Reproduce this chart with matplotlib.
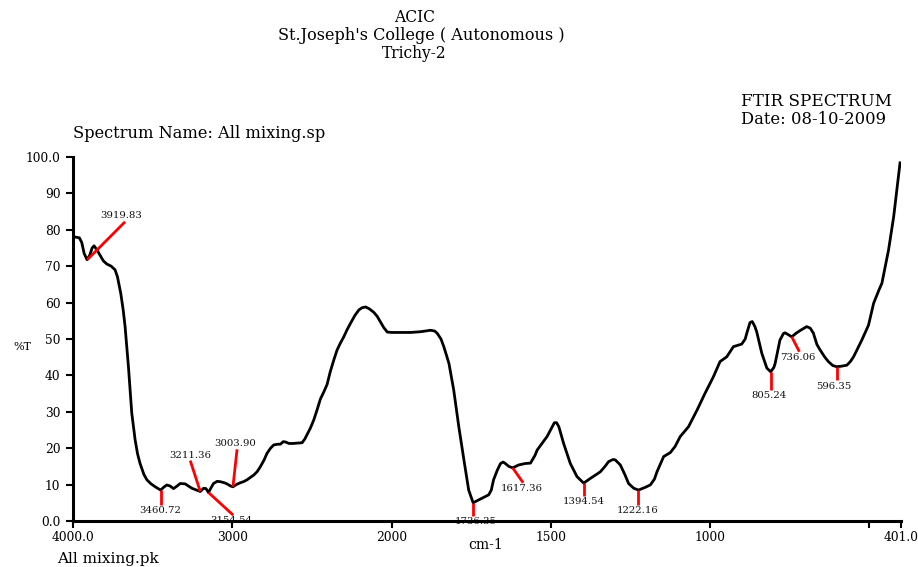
import numpy as np
import matplotlib
matplotlib.use("Agg")
import matplotlib.pyplot as plt

# ---- spectrum data ----
wavenumber = [4000, 3985, 3960, 3945, 3930, 3912, 3895, 3880, 3868, 3850, 3830, 3810, 3788, 3760,
              3736, 3721, 3700, 3685, 3673, 3652, 3631, 3610, 3595, 3579, 3555, 3536, 3510, 3484,
              3450, 3430, 3411, 3390, 3369, 3350, 3327, 3296, 3275, 3254, 3225, 3201, 3180, 3165,
              3149, 3135, 3118, 3095, 3075, 3050, 3033, 3010, 2996, 2975, 2950, 2930, 2908, 2885,
              2866, 2845, 2824, 2800, 2782, 2760, 2740, 2715, 2698, 2680, 2665, 2645, 2620, 2590,
              2562, 2545, 2530, 2510, 2489, 2468, 2447, 2425, 2405, 2385, 2363, 2342, 2320, 2300,
              2280, 2258, 2230, 2205, 2185, 2163, 2140, 2111, 2090, 2069, 2050, 2027, 2000, 1982,
              1940, 1909, 1878, 1865, 1857, 1845, 1836, 1820, 1805, 1789, 1773, 1758, 1744, 1731,
              1715, 1695, 1687, 1680, 1668, 1658, 1650, 1643, 1632, 1620, 1601, 1580, 1564, 1550,
              1543, 1512, 1495, 1489, 1482, 1475, 1460, 1439, 1418, 1397, 1376, 1345, 1330, 1319,
              1305, 1298, 1282, 1268, 1256, 1240, 1225, 1205, 1188, 1175, 1167, 1146, 1125, 1110,
              1094, 1068, 1041, 1016, 990, 969, 948, 927, 901, 890, 885, 875, 868, 860,
              854, 838, 822, 810, 800, 796, 781, 770, 765, 755, 744, 730, 718, 697,
              686, 676, 665, 655, 640, 629, 615, 603, 590, 571, 560, 550, 524, 503,
              487, 470, 461, 440, 424, 414, 404]
transmittance = [77.8, 78.0, 77.8, 76.5, 73.5, 71.8, 73.0, 75.0, 75.6, 74.5, 73.0, 71.5, 70.6, 70.0,
                 69.0, 67.1, 62.5, 58.0, 53.4, 42.4, 29.6, 22.3, 18.5, 15.8, 12.8, 11.3, 10.2, 9.4,
                 8.5, 9.3, 9.9, 9.6, 8.9, 9.5, 10.3, 10.2, 9.6, 9.0, 8.5, 8.1, 9.0, 8.9,
                 7.8, 9.0, 10.3, 10.9, 10.8, 10.5, 10.2, 9.6, 9.4, 10.0, 10.5, 10.8, 11.3, 12.0,
                 12.6, 13.5, 14.9, 16.8, 18.6, 20.0, 20.9, 21.1, 21.1, 21.8, 21.7, 21.3, 21.3, 21.4,
                 21.5, 22.5, 23.8, 25.5, 27.7, 30.5, 33.5, 35.5, 37.5, 41.0, 44.2, 47.0, 49.0, 50.6,
                 52.5, 54.3, 56.5, 58.0, 58.6, 58.8, 58.3, 57.3, 56.2, 54.6, 53.2, 51.9, 51.8, 51.8,
                 51.8, 52.0, 52.4, 52.2, 51.6, 50.0, 47.9, 43.3, 36.0, 25.9, 16.8, 8.5, 5.0, 5.6,
                 6.3, 7.2, 8.5, 11.3, 14.0, 15.8, 16.2, 15.8, 15.0, 14.6, 15.4, 15.8, 15.9, 18.0,
                 19.5, 23.2, 26.0, 27.0, 27.0, 25.9, 21.3, 15.8, 12.2, 10.4, 11.7, 13.5, 15.0, 16.3,
                 16.9, 16.8, 15.4, 12.8, 10.3, 9.0, 8.5, 9.2, 9.9, 11.5, 13.5, 17.7, 18.8, 20.5,
                 23.2, 25.9, 30.5, 35.1, 39.6, 43.8, 45.1, 47.9, 48.6, 50.0, 51.6, 54.5, 54.8, 53.5,
                 52.0, 46.1, 42.0, 41.0, 42.2, 43.3, 49.7, 51.5, 51.7, 51.2, 50.6, 51.6, 52.3, 53.4,
                 53.0, 51.6, 48.5, 47.0, 45.0, 43.8, 42.7, 42.4, 42.5, 42.8, 43.8, 45.1, 49.7, 53.8,
                 59.8, 63.5, 65.3, 74.5, 83.6, 90.9, 98.4]

# ---- peak annotations ----
peak_labels = ["3919.83", "3460.72", "3211.36", "3154.54", "3003.90", "1736.35",
               "1617.36", "1394.54", "1222.16", "805.24", "736.06", "596.35"]
peak_wn = [3910, 3450, 3201, 3149, 2996, 1744, 1620, 1397, 1225, 810, 744, 603]
peak_T = [71.8, 8.5, 8.1, 7.8, 9.4, 5.0, 14.6, 10.4, 8.5, 41.0, 50.6, 42.4]
tip_wn = [3673, 3450, 3264, 2994, 2970, 1744, 1587, 1397, 1225, 810, 720, 603]
tip_T = [82.2, 4.4, 16.6, 1.6, 19.7, 1.4, 10.5, 6.9, 4.4, 36.0, 46.5, 38.7]
label_wn = [3695, 3453, 3264, 3006, 2981, 1737, 1592, 1398, 1229, 816, 726, 611]
label_T = [82.6, 4.0, 16.8, 1.3, 20.0, 1.0, 10.1, 6.5, 4.0, 35.6, 46.1, 38.3]
label_above = [True, False, True, False, True, False, False, False, False, False, False, False]

# ---- axis ticks ----
x_ticks = [4000, 3000, 2000, 1500, 1000, 500, 401]
x_tick_labels = ["4000.0", "3000", "2000", "1500", "1000", "", "401.0"]
y_ticks = [0, 10, 20, 30, 40, 50, 60, 70, 80, 90, 100]
y_tick_labels = ["0.0", "10", "20", "30", "40", "50", "60", "70", "80", "90", "100.0"]


def fwd(x):
    x = np.asarray(x, dtype=float)
    return np.where(x > 2000, 2000 + (x - 2000) / 2.0, x)


def inv(y):
    y = np.asarray(y, dtype=float)
    return np.where(y > 2000, 2000 + (y - 2000) * 2.0, y)


fig = plt.figure(figsize=(9.18, 5.67), dpi=100)
ax = fig.add_axes([73 / 918, 1 - 521 / 567, (901 - 73) / 918, (521 - 157) / 567])
ax.set_xscale("function", functions=(fwd, inv))
ax.set_xlim(4000, 401)
ax.set_ylim(0, 100)

ax.plot(wavenumber, transmittance, color="black", lw=2.0, zorder=3)

for lab, pw, pt, tw, tt, lw_, lt, above in zip(peak_labels, peak_wn, peak_T, tip_wn, tip_T,
                                                label_wn, label_T, label_above):
    ax.plot([pw, tw], [pt, tt], color="#ff0000", lw=2.0, zorder=4, solid_capstyle="butt")
    ax.text(lw_, lt, lab, ha="center", va="bottom" if above else "top",
            fontsize=7.3, family="DejaVu Serif", color="#111111", zorder=1)

for s in ["top", "right"]:
    ax.spines[s].set_visible(False)
for s in ["left", "bottom"]:
    ax.spines[s].set_linewidth(2.2)
    ax.spines[s].set_zorder(5)

ax.set_xticks(x_ticks)
ax.set_xticklabels(x_tick_labels, family="DejaVu Serif", fontsize=8.8)
ax.xaxis.set_minor_locator(matplotlib.ticker.NullLocator())
ax.set_yticks(y_ticks)
ax.set_yticklabels(y_tick_labels, family="DejaVu Serif", fontsize=8.8)
ax.tick_params(axis="both", direction="out", length=5, width=1.5, color="black", pad=2)
ax.tick_params(axis="y", pad=4)

# ---- header / captions ----
serif = "DejaVu Serif"
fig.text(415 / 918, 1 - 17 / 567, "ACIC", ha="center", va="center", family=serif, fontsize=11.2)
fig.text(421 / 918, 1 - 36 / 567, "St.Joseph's College ( Autonomous )", ha="center", va="center",
         family=serif, fontsize=11.6)
fig.text(414 / 918, 1 - 53 / 567, "Trichy-2", ha="center", va="center", family=serif, fontsize=11.2)
fig.text(741 / 918, 1 - 102 / 567, "FTIR SPECTRUM", ha="left", va="center", family=serif, fontsize=12.2)
fig.text(741 / 918, 1 - 120 / 567, "Date: 08-10-2009", ha="left", va="center", family=serif, fontsize=11.8)
fig.text(73 / 918, 1 - 134 / 567, "Spectrum Name: All mixing.sp", ha="left", va="center",
         family=serif, fontsize=11.7)
fig.text(22 / 918, 1 - 347 / 567, "%T", ha="center", va="center", family=serif, fontsize=8)
fig.text(486 / 918, 1 - 545 / 567, "cm-1", ha="center", va="center", family=serif, fontsize=10)
fig.text(57 / 918, 1 - 566 / 567, "All mixing.pk", ha="left", va="bottom", family=serif, fontsize=11)

fig.savefig("out.png", dpi=100)
